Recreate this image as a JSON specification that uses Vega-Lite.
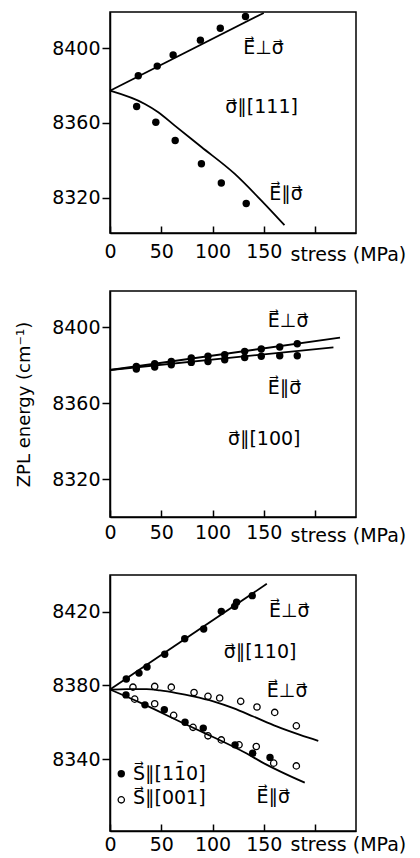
{
  "$schema": "https://vega.github.io/schema/vega-lite/v6.json",
  "padding": {"left": 14, "top": 8, "right": 0, "bottom": 0},
  "bounds": "flush",
  "spacing": 58,
  "config": {
    "view": {"stroke": "black", "strokeWidth": 1.5},
    "axis": {"domainColor": "black", "domainWidth": 1.5, "tickColor": "black", "tickWidth": 1.5, "labelColor": "black", "labelFont": "DejaVu Sans", "labelFontSize": 19, "grid": false, "titleColor": "black", "titleFont": "DejaVu Sans", "titleFontWeight": "normal", "format": "d"},
    "text": {"font": "DejaVu Sans", "fontSize": 19, "color": "black"}
  },
  "datasets": {
    "p1lines": [
      {"s": 0, "e": 8377.3, "curve": "perp"}, {"s": 150, "e": 8419.0, "curve": "perp"},
      {"s": 0, "e": 8377.3, "curve": "par"}, {"s": 34, "e": 8370.2, "curve": "par"}, {"s": 47.1, "e": 8365.8, "curve": "par"}, {"s": 63.2, "e": 8358.6, "curve": "par"}, {"s": 89.2, "e": 8347.1, "curve": "par"}, {"s": 121.5, "e": 8332.8, "curve": "par"}, {"s": 147.5, "e": 8318.5, "curve": "par"}, {"s": 170.2, "e": 8305.2, "curve": "par"}
    ],
    "p1points": [
      {"s": 27.6, "e": 8385.3}, {"s": 46.1, "e": 8390.5}, {"s": 61.6, "e": 8396.4}, {"s": 88.2, "e": 8404.4}, {"s": 107.6, "e": 8410.8}, {"s": 132.2, "e": 8417.1},
      {"s": 26, "e": 8368.8}, {"s": 44.7, "e": 8360.4}, {"s": 63.6, "e": 8350.6}, {"s": 89.2, "e": 8338.1}, {"s": 108.6, "e": 8327.8}, {"s": 132.9, "e": 8316.8}
    ],
    "p1labels": [
      {"s": 130, "e": 8400.1, "t": "E⃗⊥σ⃗"},
      {"s": 112.5, "e": 8368.6, "t": "σ⃗∥[111]"},
      {"s": 155.3, "e": 8322.1, "t": "E⃗∥σ⃗"}
    ],
    "p2lines": [
      {"s": 0, "e": 8377.5, "curve": "perp"}, {"s": 224.4, "e": 8394.5, "curve": "perp"},
      {"s": 0, "e": 8377.5, "curve": "par"}, {"s": 218, "e": 8389.4, "curve": "par"}
    ],
    "p2points": [
      {"s": 25.7, "e": 8379.4}, {"s": 43.6, "e": 8380.8}, {"s": 59.8, "e": 8382.0}, {"s": 79.3, "e": 8383.8}, {"s": 95.6, "e": 8384.7}, {"s": 111.9, "e": 8385.5}, {"s": 131.4, "e": 8387.3}, {"s": 147.6, "e": 8388.5}, {"s": 165.6, "e": 8389.6}, {"s": 182.7, "e": 8391.3},
      {"s": 25.7, "e": 8378.0}, {"s": 43.6, "e": 8379.1}, {"s": 59.8, "e": 8380.3}, {"s": 79.3, "e": 8381.5}, {"s": 95.6, "e": 8382.0}, {"s": 111.9, "e": 8382.9}, {"s": 131.4, "e": 8384.1}, {"s": 147.6, "e": 8384.7}, {"s": 165.6, "e": 8385.0}, {"s": 182.7, "e": 8385.0}
    ],
    "p2labels": [
      {"s": 154, "e": 8403, "t": "E⃗⊥σ⃗"},
      {"s": 154, "e": 8368.3, "t": "E⃗∥σ⃗"},
      {"s": 115, "e": 8341.5, "t": "σ⃗∥[100]"}
    ],
    "p3lines": [
      {"s": 0, "e": 8377.7, "curve": "perp1"}, {"s": 153, "e": 8435, "curve": "perp1"},
      {"s": 0, "e": 8377.6, "curve": "perp2"}, {"s": 16.3, "e": 8377.9, "curve": "perp2"}, {"s": 35.8, "e": 8377.9, "curve": "perp2"}, {"s": 48.8, "e": 8377.2, "curve": "perp2"}, {"s": 65, "e": 8375.8, "curve": "perp2"}, {"s": 81.3, "e": 8374.0, "curve": "perp2"}, {"s": 100.8, "e": 8371.3, "curve": "perp2"}, {"s": 120.3, "e": 8367.6, "curve": "perp2"}, {"s": 139.8, "e": 8363.1, "curve": "perp2"}, {"s": 162.6, "e": 8357.7, "curve": "perp2"}, {"s": 185.4, "e": 8353.1, "curve": "perp2"}, {"s": 203.2, "e": 8349.9, "curve": "perp2"},
      {"s": 0, "e": 8377.7, "curve": "par"}, {"s": 30.5, "e": 8370.3, "curve": "par"}, {"s": 74.8, "e": 8358.6, "curve": "par"}, {"s": 92.4, "e": 8354.1, "curve": "par"}, {"s": 133.4, "e": 8343.0, "curve": "par"}, {"s": 147.6, "e": 8338.5, "curve": "par"}, {"s": 190, "e": 8327.2, "curve": "par"}
    ],
    "p3filled": [
      {"s": 15.9, "e": 8383.4}, {"s": 28.3, "e": 8386.6}, {"s": 36.1, "e": 8389.9}, {"s": 53.4, "e": 8396.8}, {"s": 72.9, "e": 8405.2}, {"s": 91.4, "e": 8410.5}, {"s": 108.6, "e": 8420.1}, {"s": 121.6, "e": 8422.8}, {"s": 123.5, "e": 8425.0}, {"s": 138.8, "e": 8428.6},
      {"s": 15.6, "e": 8374.8}, {"s": 34.1, "e": 8369.4}, {"s": 53, "e": 8366.7}, {"s": 73.2, "e": 8360.0}, {"s": 91, "e": 8356.8}, {"s": 122, "e": 8347.7}, {"s": 139.2, "e": 8343.2}, {"s": 156.1, "e": 8340.9},
      {"s": 11, "e": 8332.0}
    ],
    "p3open": [
      {"s": 22.4, "e": 8379.0}, {"s": 43.6, "e": 8379.4}, {"s": 59.8, "e": 8379.0}, {"s": 82, "e": 8376.1}, {"s": 95.6, "e": 8374.0}, {"s": 107, "e": 8373.1}, {"s": 127.5, "e": 8371.3}, {"s": 143.4, "e": 8368.2}, {"s": 160.7, "e": 8365.3}, {"s": 181.8, "e": 8358.0},
      {"s": 24.1, "e": 8372.5}, {"s": 43.6, "e": 8370.0}, {"s": 62.1, "e": 8363.7}, {"s": 81, "e": 8357.2}, {"s": 95.6, "e": 8352.6}, {"s": 108.6, "e": 8350.4}, {"s": 125.9, "e": 8347.7}, {"s": 142.7, "e": 8346.8}, {"s": 159.7, "e": 8337.8}, {"s": 181.8, "e": 8336.3},
      {"s": 11, "e": 8317.9}
    ],
    "p3labels": [
      {"s": 155, "e": 8420.5, "t": "E⃗⊥σ⃗"},
      {"s": 111, "e": 8398.3, "t": "σ⃗∥[110]"},
      {"s": 153, "e": 8376.7, "t": "E⃗⊥σ⃗"},
      {"s": 143, "e": 8319.7, "t": "E⃗∥σ⃗"},
      {"s": 22.4, "e": 8332.1, "t": "S⃗∥[11̄0]"},
      {"s": 22.4, "e": 8318.8, "t": "S⃗∥[001]"}
    ]
  },
  "vconcat": [
    {
      "width": 246, "height": 221,
      "encoding": {
        "x": {"field": "s", "type": "quantitative", "scale": {"domain": [0, 240], "nice": false, "zero": false},
              "axis": {"values": [0, 50, 100, 150, 200], "labelExpr": "datum.value == 200 ? '' : datum.label", "labelFlush": false, "labelOverlap": false, "tickSize": -7, "labelPadding": 31, "labelBaseline": "alphabetic", "title": "stress (MPa)", "titleFontSize": 19, "titleAlign": "left", "titleAnchor": "start", "titleX": 180, "titleY": 27.5, "titleBaseline": "alphabetic"}},
        "y": {"field": "e", "type": "quantitative", "scale": {"domain": [8301, 8419.5], "nice": false, "zero": false},
              "axis": {"values": [8320, 8360, 8400], "tickSize": 8, "labelPadding": 2, "title": null}}
      },
      "layer": [
        {"data": {"name": "p1lines"}, "mark": {"type": "line", "color": "black", "strokeWidth": 1.8, "interpolate": "monotone"}, "encoding": {"detail": {"field": "curve"}}},
        {"data": {"name": "p1points"}, "mark": {"type": "point", "filled": true, "color": "black", "size": 55, "opacity": 1}},
        {"data": {"name": "p1labels"}, "mark": {"type": "text", "align": "left", "baseline": "middle"}, "encoding": {"text": {"field": "t"}}}
      ]
    },
    {
      "width": 246, "height": 226,
      "encoding": {
        "x": {"field": "s", "type": "quantitative", "scale": {"domain": [0, 240], "nice": false, "zero": false},
              "axis": {"values": [0, 50, 100, 150, 200], "labelExpr": "datum.value == 200 ? '' : datum.label", "labelFlush": false, "labelOverlap": false, "tickSize": -7, "labelPadding": 28, "labelBaseline": "alphabetic", "title": "stress (MPa)", "titleFontSize": 19, "titleAlign": "left", "titleAnchor": "start", "titleX": 180, "titleY": 24.5, "titleBaseline": "alphabetic"}},
        "y": {"field": "e", "type": "quantitative", "scale": {"domain": [8300.3, 8419], "nice": false, "zero": false},
              "axis": {"values": [8320, 8360, 8400], "tickSize": 8, "labelPadding": 2, "title": "ZPL energy (cm⁻¹)", "titleFontSize": 18, "titleX": -86, "titleY": 113, "titleAlign": "center", "titleBaseline": "middle", "titleAngle": -90}}
      },
      "layer": [
        {"data": {"name": "p2lines"}, "mark": {"type": "line", "color": "black", "strokeWidth": 1.8}, "encoding": {"detail": {"field": "curve"}}},
        {"data": {"name": "p2points"}, "mark": {"type": "point", "filled": true, "color": "black", "size": 55, "opacity": 1}},
        {"data": {"name": "p2labels"}, "mark": {"type": "text", "align": "left", "baseline": "middle"}, "encoding": {"text": {"field": "t"}}}
      ]
    },
    {
      "width": 246, "height": 256,
      "encoding": {
        "x": {"field": "s", "type": "quantitative", "scale": {"domain": [0, 240], "nice": false, "zero": false},
              "axis": {"values": [0, 50, 100, 150, 200], "labelExpr": "datum.value == 200 ? '' : datum.label", "labelFlush": false, "labelOverlap": false, "tickSize": -7, "labelPadding": 26, "labelBaseline": "alphabetic", "title": "stress (MPa)", "titleFontSize": 19, "titleAlign": "left", "titleAnchor": "start", "titleX": 180, "titleY": 19.5, "titleBaseline": "alphabetic"}},
        "y": {"field": "e", "type": "quantitative", "scale": {"domain": [8301, 8439.8], "nice": false, "zero": false},
              "axis": {"values": [8340, 8380, 8420], "tickSize": 8, "labelPadding": 2, "title": null}}
      },
      "layer": [
        {"data": {"name": "p3lines"}, "mark": {"type": "line", "color": "black", "strokeWidth": 1.8, "interpolate": "monotone"}, "encoding": {"detail": {"field": "curve"}}},
        {"data": {"name": "p3filled"}, "mark": {"type": "point", "filled": true, "color": "black", "size": 55, "opacity": 1}},
        {"data": {"name": "p3open"}, "mark": {"type": "point", "filled": false, "color": "black", "size": 40, "strokeWidth": 1.3, "opacity": 1}},
        {"data": {"name": "p3labels"}, "mark": {"type": "text", "align": "left", "baseline": "middle"}, "encoding": {"text": {"field": "t"}}}
      ]
    }
  ]
}
